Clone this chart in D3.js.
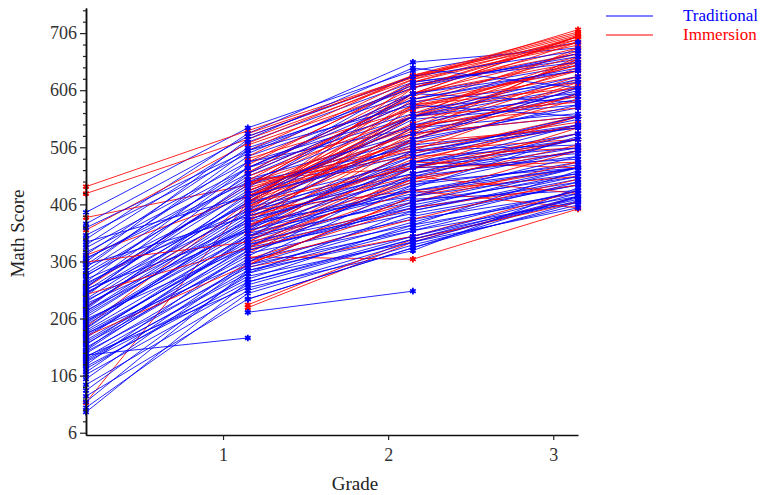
<!DOCTYPE html>
<html>
<head>
<meta charset="utf-8">
<script src="https://cdn.jsdelivr.net/npm/d3@7"></script>
<style>
  body { margin: 0; background: #fff; }
  text { font-family: "Liberation Serif", "Times New Roman", serif; }
</style>
</head>
<body>
<div id="chart"></div>
<script>
// Grade at which each score was taken
var grades = [0.17, 1.15, 2.15, 3.15];

// Math scores per student: [grade 0, grade 1, grade 2, grade 3], null = missing
var traditional = [
  [392, 540, 640, 690], [345, 530, 655, 680], [335, 515, 620, 660], [318, 505, 600, 650],
  [300, 490, 590, 640], [290, 470, 560, 610], [280, 455, 575, 600], [270, 480, 540, 590],
  [262, 440, 520, 575], [255, 430, 530, 560], [248, 445, 505, 545], [240, 420, 495, 555],
  [235, 410, 480, 530], [228, 400, 470, 520], [222, 425, 510, 540], [218, 395, 460, 505],
  [212, 380, 450, 500], [208, 385, 475, 495], [200, 370, 430, 480], [195, 360, 445, 470],
  [190, 375, 420, 460], [185, 350, 410, 455], [178, 340, 400, 445], [172, 355, 425, 470],
  [168, 330, 390, 440], [160, 345, 415, 430], [155, 320, 380, 425], [150, 335, 395, 450],
  [145, 310, 370, 420], [142, 172, null, null], [138, 300, 360, 410], [132, 290, 350, 415],
  [125, 325, 405, 460], [118, 280, 340, 400], [100, 300, 385, 440], [60, 290, 365, 430],
  [42, 270, 345, 412], [50, 250, 335, 405], [365, 500, 610, 670], [310, 460, 585, 620],
  [null, 217, 254, null], [null, 240, 330, 420], [275, 395, 540, 565], [250, 410, 555, 580],
  [232, 360, 500, 510], [205, 330, 470, 485], [180, 305, 440, 475], [162, 315, 455, 490],
  [330, 480, 565, 630], [285, 450, 530, 600], [265, 435, 600, 585], [215, 390, 520, 610],
  [198, 365, 490, 545], [245, 460, 620, 655], [225, 415, 560, 595], [175, 345, 435, 525],
  [140, 260, 325, 435], [130, 275, 370, 465], [305, 520, 645, 610], [295, 500, 580, 560],
  [260, 470, 600, 640], [188, 380, 460, 530], [152, 350, 480, 505], [112, 305, 410, 470],
  [80, 285, 395, 455], [372, 525, 630, 675], [352, 495, 615, 665], [322, 470, 590, 645],
  [312, 445, 560, 625], [282, 425, 545, 605], [268, 405, 515, 580], [252, 390, 490, 560],
  [238, 375, 470, 545], [220, 365, 455, 520], [202, 350, 440, 500], [182, 335, 420, 490],
  [165, 325, 400, 470], [148, 295, 375, 445], [135, 285, 360, 430], [122, 270, 350, 425],
  [108, 265, 345, 420], [90, 255, 340, 418], [70, 240, 330, 410], [340, 420, 500, 540],
  [300, 385, 480, 520], [258, 360, 430, 470]
];

var immersion = [
  [437, 535, 630, 705], [425, 520, 625, 712], [383, 440, 600, 700], [361, 513, 630, 690],
  [317, 420, 560, 680], [260, 440, 600, 670], [226, 400, 540, 660], [191, 410, 560, 655],
  [59, 410, 520, 620], [null, 314, 310, 398], [null, 225, 340, 420], [null, 300, 420, 470],
  [null, 320, 460, 520], [null, 340, 470, 560], [null, 355, 500, 600], [null, 365, 520, 610],
  [null, 375, 540, 630], [null, 385, 560, 640], [null, 390, 575, 650], [null, 395, 590, 665],
  [null, 400, 610, 680], [null, 405, 620, 690], [null, 410, 600, 700], [null, 415, 580, 610],
  [null, 420, 560, 585], [null, 425, 545, 575], [null, 430, 530, 560], [null, 435, 515, 540],
  [null, 440, 500, 520], [null, 445, 490, 505], [null, 450, 470, 480], [null, 455, 560, 620],
  [null, 460, 585, 640], [null, 470, 600, 655], [null, 480, 615, 670], [null, 490, 625, 685],
  [null, 500, 632, 695], [null, 510, 610, 700], [null, 525, 632, 708], [null, 350, 450, 500],
  [null, 330, 430, 455], [null, 310, 400, 440], [null, 370, 480, 470], [null, 385, 455, 425],
  [null, 395, 430, 400], [null, 345, 520, 600], [null, 360, 580, 630], [null, 380, 530, 665],
  [null, 392, 510, 590], [null, 402, 525, 615], [null, 412, 535, 625], [null, 418, 548, 645],
  [null, 428, 565, 660], [null, 438, 580, 675], [null, 448, 595, 690], [null, 462, 610, 695],
  [null, 475, 620, 700], [null, 378, 495, 560], [null, 368, 485, 545], [null, 358, 470, 530],
  [null, 336, 445, 510], [null, 326, 410, 480], [null, 305, 380, 450], [null, 408, 470, 520],
  [null, 422, 505, 550], [null, 442, 540, 595], [null, 486, 572, 650], [null, 530, 628, 702],
  [null, 296, 350, 430], [null, 230, 345, 410], [305, 340, 480, 560], [248, 330, 450, 540],
  [175, 300, 420, 500]
];

var xTicks = [1, 2, 3];
var yTicks = [6, 106, 206, 306, 406, 506, 606, 706];
var yMinorTicks = [26, 46, 66, 86, 126, 146, 166, 186, 226, 246, 266, 286, 326, 346, 366, 386,
  426, 446, 466, 486, 526, 546, 566, 586, 626, 646, 666, 686, 726, 746];
var groupNames = ["Traditional", "Immersion"];
var groupColors = ["#0000ff", "#ff0000"];

var svgWidth = 769;
var svgHeight = 495;
var margin = { top: 8, right: 191, bottom: 60, left: 86 };
var width = svgWidth - margin.left - margin.right;
var height = svgHeight - margin.top - margin.bottom;

var svg = d3.select("#chart")
  .append("svg")
  .attr("width", svgWidth)
  .attr("height", svgHeight);

var chartGroup = svg.append("g")
  .attr("transform", `translate(${margin.left}, ${margin.top})`);

var xScale = d3.scaleLinear().domain([0.17, 3.15]).range([0, width]);
var yScale = d3.scaleLinear().domain([2, 750]).range([height, 0]);

// build one record per student, interleaving the two groups
var students = [];
var n = Math.max(traditional.length, immersion.length);
for (var i = 0; i < n; i++) {
  if (i < traditional.length) students.push({ group: 0, scores: traditional[i] });
  if (i < immersion.length) students.push({ group: 1, scores: immersion[i] });
}

var line = d3.line()
  .defined(d => d.score !== null)
  .x(d => xScale(d.grade))
  .y(d => yScale(d.score));

var linesGroup = chartGroup.append("g");
linesGroup.selectAll("path")
  .data(students)
  .enter()
  .append("path")
  .attr("d", s => line(s.scores.map((v, j) => ({ grade: grades[j], score: v }))))
  .attr("fill", "none")
  .attr("stroke", s => groupColors[s.group])
  .attr("stroke-width", 1)
  .attr("stroke-opacity", 0.85);

// markers: red first, blue on top
var points = [];
[1, 0].forEach(function(g) {
  students.filter(s => s.group === g).forEach(function(s) {
    s.scores.forEach(function(v, j) {
      if (v !== null) points.push({ group: g, grade: grades[j], score: v });
    });
  });
});

var marker = d3.symbol().type(d3.symbolAsterisk).size(30);
chartGroup.append("g")
  .selectAll("path")
  .data(points)
  .enter()
  .append("path")
  .attr("d", marker)
  .attr("transform", d => `translate(${xScale(d.grade)}, ${yScale(d.score)})`)
  .attr("fill", "none")
  .attr("stroke", d => groupColors[d.group])
  .attr("stroke-width", 1.8);

// axes
var bottomAxis = d3.axisBottom(xScale).tickValues(xTicks).tickSize(5).tickSizeOuter(0)
  .tickFormat(d3.format("d"));
var leftAxis = d3.axisLeft(yScale).tickValues(yTicks).tickSize(6).tickSizeOuter(0);
var minorAxis = d3.axisLeft(yScale).tickValues(yMinorTicks).tickSize(3).tickSizeOuter(0).tickFormat("");

var xAxis = chartGroup.append("g")
  .attr("transform", `translate(0, ${height})`)
  .call(bottomAxis);

var yAxis = chartGroup.append("g").call(leftAxis);
var yMinor = chartGroup.append("g").call(minorAxis);

[xAxis, yAxis, yMinor].forEach(function(a) {
  a.select(".domain").attr("stroke", "#111").attr("stroke-width", 1.5);
  a.selectAll(".tick line").attr("stroke", "#222").attr("stroke-width", 1.2);
  a.selectAll(".tick text")
    .attr("font-family", "Liberation Serif, serif")
    .attr("font-size", 18)
    .attr("fill", "#333");
});
xAxis.selectAll(".tick text").attr("dy", "1.0em");
yAxis.selectAll(".tick text").attr("x", -9);

// axis titles
chartGroup.append("text")
  .attr("x", 269)
  .attr("y", height + 55)
  .attr("text-anchor", "middle")
  .attr("font-size", 19)
  .attr("fill", "#222")
  .text("Grade");

chartGroup.append("text")
  .attr("transform", "rotate(-90)")
  .attr("x", -(height / 2 + 12))
  .attr("y", -margin.left + 24)
  .attr("text-anchor", "middle")
  .attr("font-size", 19)
  .attr("fill", "#222")
  .text("Math Score");

// legend
var legend = svg.append("g").attr("transform", "translate(606, 16)");
groupNames.forEach(function(name, k) {
  legend.append("line")
    .attr("x1", 0).attr("x2", 47)
    .attr("y1", k * 19).attr("y2", k * 19)
    .attr("stroke", groupColors[k])
    .attr("stroke-width", 1.2);
  legend.append("text")
    .attr("x", 77)
    .attr("y", k * 19 + 5)
    .attr("font-size", 17)
    .attr("fill", groupColors[k])
    .text(name);
});
</script>
</body>
</html>
